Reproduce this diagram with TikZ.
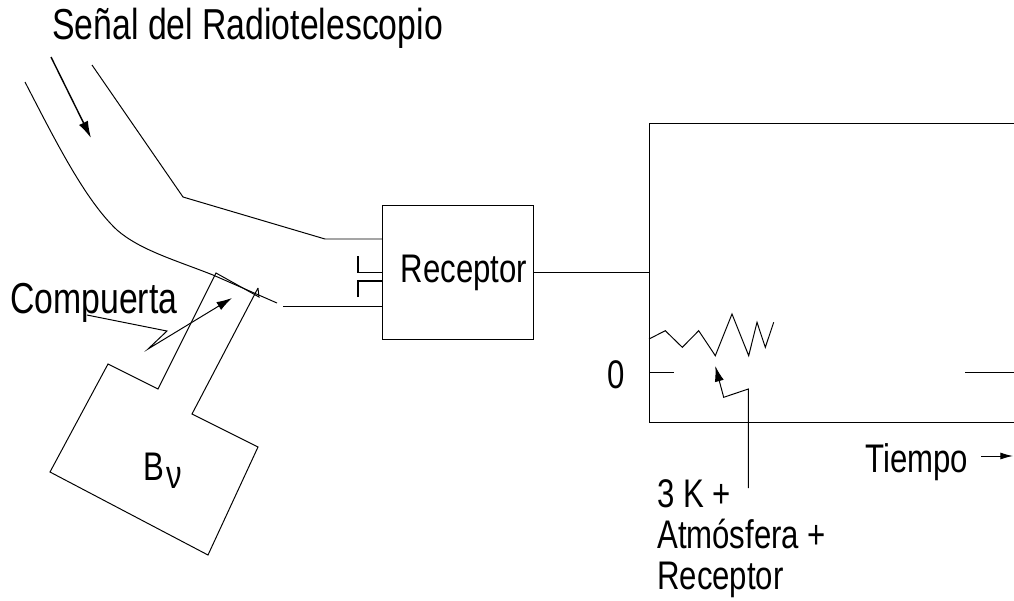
\documentclass[tikz,border=0pt]{standalone}
\usepackage{fontspec}
\setmainfont[FakeStretch=0.78]{Liberation Sans}
\usetikzlibrary{arrows.meta}
\tikzset{
    wall/.style={line width=0.7pt, line join=miter},
    pointer/.style={wall, -{Latex[length=11pt, width=6.5pt]}},
    bigtext/.style={anchor=base west, inner sep=0pt, font=\fontsize{30.8}{33}\selectfont},
    smalltext/.style={anchor=base west, inner sep=0pt, font=\fontsize{28.4}{29.2}\selectfont}
}
\begin{document}
\begin{tikzpicture}[x=0.025cm, y=-0.025cm]
    \useasboundingbox (0,0) rectangle (1014,600);
    \node[bigtext] (senal) at (52,39) {Señal del Radiotelescopio};
    \node[bigtext] (compuerta) at (10,313) {Compuerta};
    \node[draw, wall, minimum width=3.75cm, minimum height=3.325cm, inner sep=0pt, font=\fontsize{28.4}{29.2}\selectfont] (receptor) at (458,272.5) {\hspace*{0.3cm}Receptor};
    \node[smalltext] (cero) at (607,388) {0};
    \node[smalltext] (tiempo) at (865,472) {Tiempo};
    \node[smalltext, anchor=north west, align=left] (suma) at (657,479) {3 K +\\Atmósfera +\\Receptor};
    \node[smalltext] (bnu) at (143,480) {B\hspace{2pt}\raisebox{-6pt}{ν}};

    \coordinate (guideA) at (92,65);
    \coordinate (guideB) at (183,197);
    \coordinate (guideC) at (325,239);
    \coordinate (gateA) at (216,273);
    \coordinate (gateB) at (259,297);
    \coordinate (gateC) at (258,288);
    \coordinate (gateEnd) at (277,303);
    \coordinate (guideD) at (283,306);
    \coordinate (plotA) at (1014,123);
    \coordinate (plotB) at (649,123);
    \coordinate (plotC) at (649,422.5);
    \coordinate (plotD) at (1014,422.5);

    \draw[line width=1pt, -{Latex[length=12pt, width=7pt]}] (51,57) -- (91,138);
    \draw[wall] (guideA) -- (guideB) -- (guideC) -- (guideC -| receptor.west);
    \draw[wall] (25,82) .. controls (55,140) and (85,200) .. (117,230) .. controls (140,250) and (175,260) .. (213,275) -- (gateEnd);
    \draw[wall] (guideD) -- (guideD -| receptor.west);
    \draw[wall] (gateC) -- (gateB) -- (gateA) -- (158,389) -- (108,364) -- (50,472) -- (208,555) -- (258,447) -- (192,414) -- (gateC);

    \draw[wall, line width=0.9pt] (358,256) -- (358,272.5) -- (receptor.west);
    \draw[wall, line width=0.9pt] (358,297) -- (358,281) -- (383,281);
    \draw[wall, line width=0.9pt] (receptor.east) -- (receptor.east -| plotB);

    \draw[wall] (plotA) -- (plotB) -- (plotC) -- (plotD);
    \draw[wall] (649,339) -- (665.3,330.7) -- (682.3,347.3) -- (698.7,330.7) -- (715.3,355.7) -- (732,314) -- (748.7,355.7) -- (757,322.3) -- (765.3,347.3) -- (773.7,322.3);
    \draw[wall] (649,372) -- (674,372);
    \draw[wall] (965,372) -- (1014,372);

    \draw[pointer] (87,315) -- (167,331) -- (148,349) -- (232,298);
    \draw[pointer] (748.3,488) -- (748.3,389) -- (723.7,397.3) -- (715.3,366);
    \draw[wall, -{Latex[length=9pt, width=5pt]}] (981,456) -- (1013,456);
\end{tikzpicture}
\end{document}
